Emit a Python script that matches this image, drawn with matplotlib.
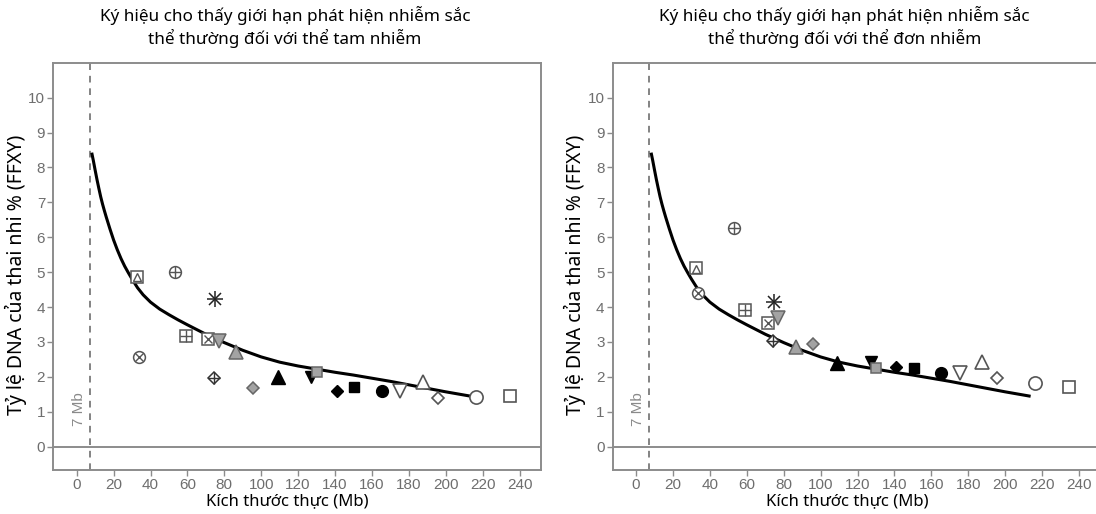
import matplotlib.pyplot as plt
import numpy as np

# chromosome sizes (Mb) and detection limits (% FFXY)
chrom_x = [32.5, 53.2, 75.0, 59.0, 71.4, 77.0, 86.5, 33.6, 74.2, 95.7, 109.0,
           127.2, 130.0, 141.0, 150.5, 165.5, 175.3, 187.5, 195.6, 216.4, 234.8]
trisomy_y = [4.87, 5.01, 4.23, 3.18, 3.09, 3.02, 2.70, 2.56, 1.97, 1.68, 1.99,
             1.99, 2.13, 1.60, 1.70, 1.58, 1.58, 1.84, 1.38, 1.41, 1.45]
monosomy_y = [5.11, 6.26, 4.15, 3.91, 3.55, 3.68, 2.86, 4.39, 3.02, 2.94, 2.39,
              2.43, 2.24, 2.28, 2.25, 2.11, 2.11, 2.43, 1.98, 1.81, 1.72]
symbols = ['sq_tri', 'circ_plus', 'star', 'sq_plus', 'sq_x', 'gray_v', 'gray_^',
           'circ_x', 'dia_plus', 'gray_D', 'black_^', 'black_v', 'gray_s',
           'black_D', 'black_s', 'black_o', 'open_v', 'open_^', 'open_D',
           'open_o', 'open_s']

# threshold curve
curve_x = [8.3, 9, 10, 11, 12, 13, 14, 15, 16, 18, 20, 22, 24, 26, 28, 30, 33,
           36, 40, 45, 50, 55, 60, 70, 80, 90, 100, 110, 120, 130, 140, 150,
           160, 170, 180, 190, 200, 213]
curve_y = [8.38, 8.2, 7.92, 7.65, 7.4, 7.16, 6.95, 6.76, 6.58, 6.24, 5.92, 5.64,
           5.39, 5.17, 4.98, 4.80, 4.55, 4.35, 4.14, 3.94, 3.78, 3.63, 3.49,
           3.22, 2.98, 2.76, 2.57, 2.42, 2.31, 2.22, 2.13, 2.05, 1.96, 1.87,
           1.77, 1.67, 1.57, 1.45]

titles = ['Ký hiệu cho thấy giới hạn phát hiện nhiễm sắc\nthể thường đối với thể tam nhiễm',
          'Ký hiệu cho thấy giới hạn phát hiện nhiễm sắc\nthể thường đối với thể đơn nhiễm']

OPEN = '#555555'
GRAY_F = '#a3a3a3'
GRAY_E = '#666666'
AX_C = '#8c8c8c'
TXT_C = '#6e6e6e'
LAB_FONT = ['Noto Sans', 'DejaVu Sans']

plt.rcParams['font.family'] = ['Liberation Sans', 'DejaVu Sans']


def draw_marker(ax, x, y, kind):
    kw = dict(linestyle='none', zorder=4)
    if kind.startswith('open_'):
        m = kind[5:]
        ms = {'v': 9.5, '^': 9.5, 'D': 6.5, 'o': 9.5, 's': 8}[m]
        ax.plot(x, y, m, ms=ms, mfc='white', mec=OPEN, mew=1.2, **kw)
    elif kind.startswith('gray_'):
        m = kind[5:]
        ms = {'v': 10, '^': 10, 'D': 6.5, 's': 7.5}[m]
        ax.plot(x, y, m, ms=ms, mfc=GRAY_F, mec=GRAY_E, mew=1.1, **kw)
    elif kind.startswith('black_'):
        m = kind[6:]
        ms = {'v': 9, '^': 9.5, 'D': 6, 's': 7, 'o': 8.5}[m]
        ax.plot(x, y, m, ms=ms, mfc='black', mec='black', mew=1, **kw)
    elif kind == 'sq_tri':
        ax.plot(x, y, 's', ms=8, mfc='white', mec=OPEN, mew=1.1, **kw)
        ax.plot(x, y - 0.02, '^', ms=5.5, mfc='none', mec=OPEN, mew=1, **kw)
    elif kind == 'circ_plus':
        ax.plot(x, y, 'o', ms=8.5, mfc='white', mec=OPEN, mew=1.1, **kw)
        ax.plot(x, y, '+', ms=8.5, mec=OPEN, mew=1, **kw)
    elif kind == 'circ_x':
        ax.plot(x, y, 'o', ms=8.5, mfc='white', mec=OPEN, mew=1.1, **kw)
        ax.plot(x, y, 'x', ms=5.8, mec=OPEN, mew=1, **kw)
    elif kind == 'sq_plus':
        ax.plot(x, y, 's', ms=8, mfc='white', mec=OPEN, mew=1.1, **kw)
        ax.plot(x, y, '+', ms=8, mec=OPEN, mew=1, **kw)
    elif kind == 'sq_x':
        ax.plot(x, y, 's', ms=8, mfc='white', mec=OPEN, mew=1.1, **kw)
        ax.plot(x, y, 'x', ms=5.5, mec=OPEN, mew=1, **kw)
    elif kind == 'dia_plus':
        ax.plot(x, y, 'D', ms=6.5, mfc='white', mec='#333333', mew=1.1, **kw)
        ax.plot(x, y, '+', ms=9, mec='#333333', mew=1, **kw)
    elif kind == 'star':
        ax.plot(x, y, '+', ms=11, mec='#222222', mew=1.1, **kw)
        ax.plot(x, y, 'x', ms=8, mec='#222222', mew=1.1, **kw)


f = plt.figure(figsize=(10.96, 5.14), dpi=100)
ax_l = f.add_axes([0.0486, 0.0856, 0.4453, 0.7924])
ax_r = f.add_axes([0.559, 0.0856, 0.4453, 0.7924])

for ax, ys, title in zip([ax_l, ax_r], [trisomy_y, monosomy_y], titles):
    ax.set_xlim(-12.7, 251.8)
    ax.set_ylim(-0.67, 11.0)
    ax.axhline(0, color=AX_C, lw=1.4, zorder=1)
    ax.axvline(7, color=TXT_C, lw=1.2, ls=(0, (4, 3.5)), zorder=1)
    ax.text(1.25, 1.08, '7 Mb', rotation=90, color='#8a8a8a', fontsize=11,
            ha='center', va='center')
    ax.plot(curve_x, curve_y, color='black', lw=2.2, zorder=3)
    for x, y, s in zip(chrom_x, ys, symbols):
        draw_marker(ax, x, y, s)
    ax.set_xticks(np.arange(0, 241, 20))
    ax.set_yticks(np.arange(0, 11, 1))
    ax.tick_params(colors=AX_C, labelcolor=TXT_C, labelsize=11, length=4,
                   width=1, pad=1.8)
    for sp in ax.spines.values():
        sp.set_color(AX_C)
        sp.set_linewidth(1.4)
    ax.set_xlabel('Kích thước thực (Mb)', family=LAB_FONT, fontsize=12,
                  color='black')
    ax.xaxis.set_label_coords(0.48, -0.058)
    ax.set_ylabel('Tỷ lệ DNA của thai nhi % (FFXY)', family=LAB_FONT,
                  fontsize=14, color='black')
    ax.yaxis.set_label_coords(-0.054, 0.478)
    ax.text(0.475, 1.037, title, transform=ax.transAxes, family=LAB_FONT,
            fontsize=12.3, color='black', ha='center', va='bottom',
            linespacing=1.25)

f.savefig('out.png', dpi=100)
